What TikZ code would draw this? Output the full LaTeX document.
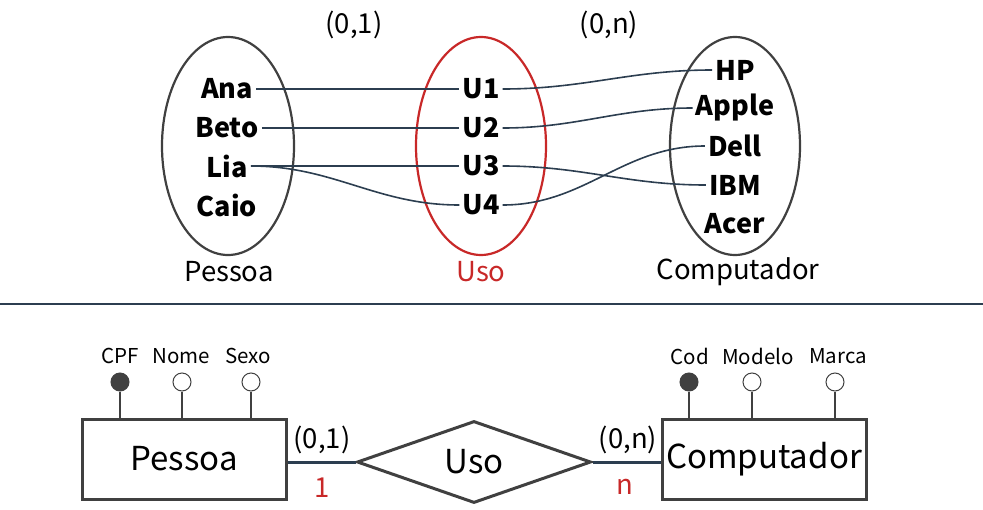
\documentclass[tikz,border=0pt]{standalone}
\usepackage{fontspec}
\setmainfont{Noto Sans CJK KR}
\usepackage{tikz}
\usetikzlibrary{shapes.geometric}
\definecolor{ink}{RGB}{64,64,64}
\definecolor{rel}{RGB}{200,40,40}
\definecolor{lnk}{RGB}{44,62,80}
\tikzset{
  elem/.style={font=\fontsize{27}{32}\selectfont\bfseries, inner sep=3pt},
  lab/.style={font=\fontsize{27.5}{33}\selectfont, inner sep=0pt},
  big/.style={font=\fontsize{33}{40}\selectfont},
  attr/.style={font=\fontsize{20.5}{25}\selectfont, inner sep=0pt},
  link/.style={lnk, line width=1.6pt},
  ent/.style={draw=ink, line width=3pt, minimum width=204pt, minimum height=80pt, inner sep=0pt, big},
  dot/.style={circle, draw=ink, line width=1pt, minimum size=18pt, inner sep=0pt},
  key/.style={dot, fill=ink},
  stem/.style={ink, line width=2pt},
}
\begin{document}
\begin{tikzpicture}[x=1pt,y=-1pt]
\useasboundingbox (0,0) rectangle (983,509);
%% occurrence diagram
\draw[ink, line width=2.2pt] (228,146) ellipse [x radius=66, y radius=109];
\draw[rel, line width=2.2pt] (481,146) ellipse [x radius=65, y radius=109];
\draw[ink, line width=2.2pt] (735,146) ellipse [x radius=65, y radius=109];
\node[lab] (lPes) at (229,272) {Pessoa};
\node[lab, rel] (lUso) at (481,272) {Uso};
\node[lab] (lCom) at (738,272) {Computador};
\node[lab] (c01) at (354,25) {(0,1)};
\node[lab] (c0n) at (609,25) {(0,n)};
%% Pessoa
\node[elem] (ana) at (227,89) {Ana};
\node[elem] (beto) at (227,128) {Beto};
\node[elem] (lia) at (227,166) {Lia};
\node[elem] (caio) at (227,205) {Caio};
%% Uso
\node[elem] (u1) at (481,89) {U1};
\node[elem] (u2) at (481,128) {U2};
\node[elem] (u3) at (481,166) {U3};
\node[elem] (u4) at (481,205) {U4};
%% Computador
\node[elem] (hp) at (735,70) {HP};
\node[elem] (apple) at (735,108) {Apple};
\node[elem] (dell) at (735,146) {Dell};
\node[elem] (ibm) at (735,185) {IBM};
\node[elem] (acer) at (735,224) {Acer};
%% links
\draw[link] (ana.east) to[out=0,in=180] (u1.west);
\draw[link] (beto.east) to[out=0,in=180] (u2.west);
\draw[link] (lia.east) to[out=0,in=180] (u3.west);
\draw[link] (lia.east) to[out=0,in=180] (u4.west);
\draw[link] (u1.east) to[out=0,in=180] (hp.west);
\draw[link] (u2.east) to[out=0,in=180] (apple.west);
\draw[link] (u3.east) to[out=0,in=180] (ibm.west);
\draw[link] (u4.east) to[out=0,in=180] (dell.west);
%% separator
\draw[lnk, line width=2pt] (0,304) -- (983,304);
%% ER diagram
\node[ent] (pes) at (184,459) {Pessoa};
\node[draw=ink, line width=3pt, diamond, aspect=2.85, minimum width=234pt, minimum height=82pt, inner sep=0pt, big] (uso) at (474,462) {Uso};
\node[ent] (com) at (764,459) {Computador};
\draw[lnk, line width=3pt] (uso.west) -- (uso.west -| pes.east);
\draw[lnk, line width=3pt] (uso.east) -- (uso.east -| com.west);
\node[lab] (p01) at (322,440) {(0,1)};
\node[lab, rel] (p1) at (322,488) {1};
\node[lab] (p0n) at (628,440) {(0,n)};
\node[lab, rel] (pn) at (625,487) {n};
%% attributes Pessoa
\node[key] (cpf) at (120,382) {};
\node[dot] (nome) at (182,382) {};
\node[dot] (sexo) at (251,382) {};
\draw[stem] (cpf.south) -- (cpf.south |- pes.north);
\draw[stem] (nome.south) -- (nome.south |- pes.north);
\draw[stem] (sexo.south) -- (sexo.south |- pes.north);
\node[attr] (tCpf) at (120,356) {CPF};
\node[attr] (tNome) at (181,356) {Nome};
\node[attr] (tSexo) at (248,356) {Sexo};
%% attributes Computador
\node[key] (cod) at (689,382) {};
\node[dot] (modelo) at (752,382) {};
\node[dot] (marca) at (835,382) {};
\draw[stem] (cod.south) -- (cod.south |- com.north);
\draw[stem] (modelo.south) -- (modelo.south |- com.north);
\draw[stem] (marca.south) -- (marca.south |- com.north);
\node[attr] (tCod) at (690,356) {Cod};
\node[attr] (tModelo) at (758,356) {Modelo};
\node[attr] (tMarca) at (838,356) {Marca};
\end{tikzpicture}
\end{document}
